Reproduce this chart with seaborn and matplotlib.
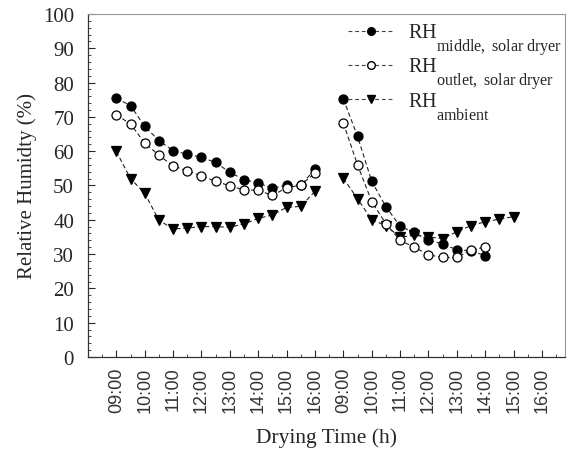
import numpy as np
import pandas as pd
import matplotlib
matplotlib.use("Agg")
import matplotlib.pyplot as plt
import matplotlib._mathtext as mathtext_internal
import seaborn as sns
from matplotlib.lines import Line2D
from matplotlib.ticker import MultipleLocator

# Relative humidity readings (%), half-hourly from 09:00
rh_middle_day1 = [75.4, 73.3, 67.2, 63.1, 60.1, 59.1, 58.2, 56.7, 53.8, 51.7, 50.7, 49.2, 50.1, 50.0, 54.8]
rh_outlet_day1 = [70.6, 67.9, 62.4, 58.8, 55.7, 54.2, 52.8, 51.2, 49.9, 48.7, 48.6, 47.1, 49.3, 50.1, 53.6]
rh_ambient_day1 = [59.9, 52.0, 47.7, 39.9, 37.3, 37.6, 38.0, 38.0, 37.8, 38.8, 40.4, 41.4, 43.6, 43.9, 48.3]

rh_middle_day2 = [75.2, 64.3, 51.2, 43.8, 38.1, 36.3, 34.0, 33.0, 31.2, 31.0, 29.5]
rh_outlet_day2 = [68.2, 56.0, 45.3, 38.8, 34.0, 32.0, 29.8, 29.0, 29.0, 31.2, 32.0]
rh_ambient_day2 = [52.1, 46.1, 40.0, 38.3, 34.9, 35.5, 35.0, 34.5, 36.5, 38.3, 39.4, 40.2, 40.9]

tick_labels = ["09:00", "10:00", "11:00", "12:00", "13:00", "14:00", "15:00", "16:00"] * 2

series = {
    "middle": (rh_middle_day1, rh_middle_day2),
    "outlet": (rh_outlet_day1, rh_outlet_day2),
    "ambient": (rh_ambient_day1, rh_ambient_day2),
}

# long-form table: hour index on the axis, day 2 starts one slot after 16:00
rows = []
for name, (d1, d2) in series.items():
    for day, vals, start in [(1, d1, 0.0), (2, d2, 8.0)]:
        for i, v in enumerate(vals):
            rows.append({"series": name, "day": day, "x": start + 0.5 * i, "rh": v})
df = pd.DataFrame(rows)

styles = {
    "middle": dict(marker="o", mfc="black", mec="black"),
    "outlet": dict(marker="o", mfc="white", mec="black"),
    "ambient": dict(marker="v", mfc="black", mec="black"),
}

sns.set_style("ticks")
plt.rcParams["font.family"] = ["Liberation Serif", "DejaVu Serif"]
plt.rcParams["mathtext.fontset"] = "custom"
plt.rcParams["mathtext.rm"] = "Liberation Serif"
# subscripts in the original are big and sit well below the baseline
mathtext_internal.SHRINK_FACTOR = 0.8
mathtext_internal.FontConstantsBase.sub1 = 1.2
mathtext_internal.FontConstantsBase.sub2 = 1.2

fig = plt.figure(figsize=(5.71, 4.52), dpi=100)
ax = fig.add_axes([0.154, 0.208, 0.835, 0.759])

for name in ["ambient", "middle", "outlet"]:
    st = styles[name]
    for day in [1, 2]:
        sub = df[(df["series"] == name) & (df["day"] == day)]
        sns.lineplot(data=sub, x="x", y="rh", ax=ax, color="#222222", lw=0.8,
                     linestyle=(0, (4, 2.5)), marker=st["marker"], markersize=6.5,
                     markerfacecolor=st["mfc"], markeredgecolor=st["mec"],
                     markeredgewidth=0.9, legend=False)

ax.set_xlim(-1, 15.8)
ax.set_ylim(0, 100)
ax.set_xticks(range(len(tick_labels)))
ax.set_xticklabels(tick_labels, rotation=90, fontsize=13, family="Liberation Sans", color="#333333")
ax.xaxis.set_minor_locator(MultipleLocator(0.5))
ax.yaxis.set_major_locator(MultipleLocator(10))
ax.yaxis.set_minor_locator(MultipleLocator(2))
ax.tick_params(axis="both", which="both", direction="in", top=False, right=False)
ax.tick_params(axis="both", which="major", length=5, width=0.8)
ax.tick_params(axis="both", which="minor", length=2.5, width=0.6)
ax.tick_params(axis="y", labelsize=15, pad=10)
ax.tick_params(axis="x", pad=7)

for s in ["top", "right"]:
    ax.spines[s].set_color("#999999")
    ax.spines[s].set_linestyle((0, (1, 1)))
    ax.spines[s].set_linewidth(0.8)
for s in ["left", "bottom"]:
    ax.spines[s].set_color("#333333")
    ax.spines[s].set_linewidth(0.9)

ax.set_xlabel("Drying Time (h)", fontsize=15.5, labelpad=11)
ax.set_ylabel("Relative Humidty (%)", fontsize=15, labelpad=4)

handles = []
labels = [r"RH$_{\mathrm{middle,\:solar\:dryer}}$",
          r"RH$_{\mathrm{outlet,\:solar\:dryer}}$",
          r"RH$_{\mathrm{ambient}}$"]
for name in ["middle", "outlet", "ambient"]:
    st = styles[name]
    handles.append(Line2D([], [], color="#444444", lw=0.8, linestyle=(0, (3.5, 2.5)),
                          marker=st["marker"], markersize=5.5,
                          markerfacecolor=st["mfc"], markeredgecolor=st["mec"]))
ax.legend(handles, labels, loc="upper right", frameon=False, fontsize=14.5,
          handlelength=2.25, handletextpad=0.75, labelspacing=-0.05,
          borderaxespad=0.0, bbox_to_anchor=(1.012, 1.0))

fig.savefig("out.png", dpi=100)
